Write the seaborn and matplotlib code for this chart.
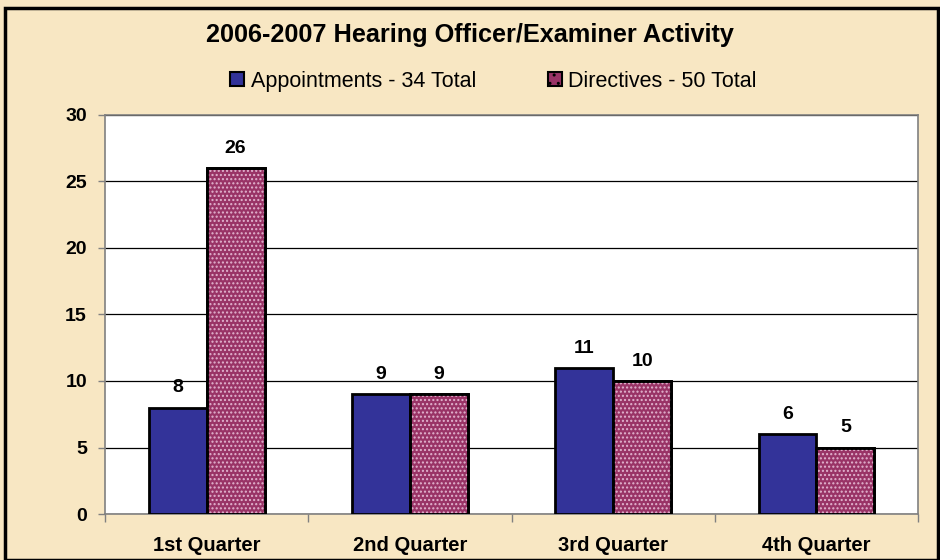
import matplotlib
matplotlib.use("Agg")
import matplotlib.pyplot as plt
from matplotlib.patches import Rectangle, Patch
from matplotlib.ticker import FixedLocator
import pandas as pd
import seaborn as sns

# data
quarters = ["1st Quarter", "2nd Quarter", "3rd Quarter", "4th Quarter"]
appointments = [8, 9, 11, 6]
directives = [26, 9, 10, 5]
series = ["Appointments - 34 Total", "Directives - 50 Total"]

df = pd.DataFrame({
    "quarter": quarters * 2,
    "value": appointments + directives,
    "series": [series[0]] * 4 + [series[1]] * 4,
})

sns.set_style("white", {"text.color": "black"})
plt.rcParams["font.family"] = ["Liberation Sans", "DejaVu Sans"]

bg = "#f8e7c3"
blue = "#333399"
pink = "#993366"

fig = plt.figure(figsize=(9.4, 5.6), dpi=100, facecolor=bg)
ax = fig.add_axes([0.1117, 0.082, 0.865, 0.713])
ax.set_facecolor("white")

sns.barplot(data=df, x="quarter", y="value", hue="series", palette=[blue, pink],
            width=0.57, edgecolor="black", linewidth=2, saturation=1,
            legend=False, ax=ax, zorder=3)

# dotted pattern on the directives bars
for p in ax.patches[:]:
    if p.get_height() > 0 and abs(p.get_facecolor()[0] - 0.6) < 0.01:
        ax.add_patch(Rectangle(p.get_xy(), p.get_width(), p.get_height(), fill=False,
                               hatch="....", edgecolor="#e2b4cf", lw=0, zorder=3.5))
        ax.add_patch(Rectangle(p.get_xy(), p.get_width(), p.get_height(), fill=False,
                               edgecolor="black", lw=2, zorder=4))

for c in ax.containers:
    ax.bar_label(c, padding=8, fontsize=14, fontweight="bold", color="black")

ax.set_ylim(0, 30)
ax.set_yticks(range(0, 31, 5))
ax.set_xlim(-0.5, 3.5)
ax.yaxis.grid(True, color="black", lw=0.9, zorder=0)
ax.set_axisbelow(True)
for s in ax.spines.values():
    s.set_color("#808080")
    s.set_linewidth(1.2)

ax.set_xlabel("")
ax.set_ylabel("")
ax.tick_params(axis="y", left=True, length=5, width=1, color="#808080",
               labelcolor="black", labelsize=14, pad=8)
ax.tick_params(axis="x", bottom=False, labelcolor="black", labelsize=14.5, pad=12)
ax.xaxis.set_minor_locator(FixedLocator([-0.5, 0.5, 1.5, 2.5, 3.5]))
ax.tick_params(axis="x", which="minor", bottom=True, length=6, width=1, color="#808080")
for t in ax.get_xticklabels() + ax.get_yticklabels():
    t.set_fontweight("bold")

fig.text(0.5, 0.937, "2006-2007 Hearing Officer/Examiner Activity", ha="center",
         va="center", fontsize=18.2, fontweight="bold", color="black")

handles = [Patch(facecolor=blue, edgecolor="black", lw=1.5),
           Patch(facecolor=pink, edgecolor="black", lw=1.5, hatch="..")]
fig.legend(handles, series, loc="center", bbox_to_anchor=(0.525, 0.855), ncol=2,
           frameon=False, fontsize=15.5, handlelength=0.65, handleheight=0.65,
           handletextpad=0.28, columnspacing=3.35)

# outer frame
fig.patches.append(Rectangle((0.005, 0.0), 0.993, 0.985, transform=fig.transFigure,
                             fill=False, edgecolor="black", lw=2.5))

fig.savefig("out.png", dpi=100, facecolor=bg)
